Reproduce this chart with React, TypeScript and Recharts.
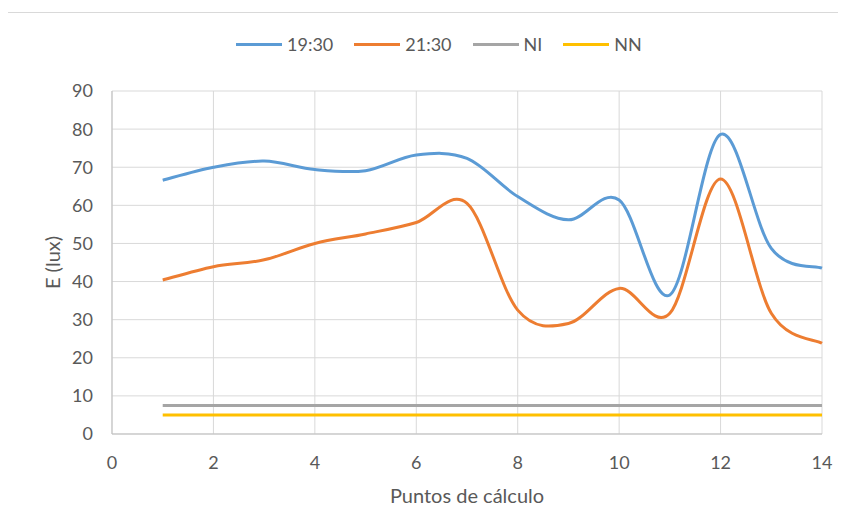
import { CartesianGrid, Line, LineChart, XAxis, YAxis, Label } from "recharts";

// Puntos de cálculo 1..14
const puntos = [1, 2, 3, 4, 5, 6, 7, 8, 9, 10, 11, 12, 13, 14];
const serie1930 = [66.6, 70, 71.6, 69.4, 69.1, 73.2, 72.3, 62.3, 56.2, 61.4, 36.5, 78.6, 48.7, 43.5];
const serie2130 = [40.4, 43.9, 45.7, 50, 52.5, 55.5, 60.5, 32.5, 29, 38.2, 31.7, 66.9, 31.7, 23.8];
const nivelNI = 7.5;
const nivelNN = 5;

const xTicks = [0, 2, 4, 6, 8, 10, 12, 14];
const yTicks = [0, 10, 20, 30, 40, 50, 60, 70, 80, 90];

const data = puntos.map((p, i) => ({
  p,
  s1930: serie1930[i],
  s2130: serie2130[i],
  ni: nivelNI,
  nn: nivelNN,
}));

const FONT = "Lato, 'Liberation Sans', sans-serif";
const TEXT = "#595959";

const legendItems = [
  { name: "19:30", color: "#5B9BD5" },
  { name: "21:30", color: "#ED7D31" },
  { name: "NI", color: "#A5A5A5" },
  { name: "NN", color: "#FFC000" },
];

// Suavizado tipo Excel (Catmull-Rom como curvas de Bézier)
function excelSmooth(context: any) {
  let pts: [number, number][] = [];
  return {
    areaStart() {},
    areaEnd() {},
    lineStart() {
      pts = [];
    },
    point(x: number, y: number) {
      pts.push([+x, +y]);
    },
    lineEnd() {
      const n = pts.length;
      if (!n) return;
      context.moveTo(pts[0][0], pts[0][1]);
      if (n === 2) context.lineTo(pts[1][0], pts[1][1]);
      for (let i = 0; n > 2 && i < n - 1; i++) {
        const p0 = pts[i - 1] || pts[i];
        const p1 = pts[i];
        const p2 = pts[i + 1];
        const p3 = pts[i + 2] || p2;
        context.bezierCurveTo(
          p1[0] + (p2[0] - p0[0]) / 6,
          p1[1] + (p2[1] - p0[1]) / 6,
          p2[0] - (p3[0] - p1[0]) / 6,
          p2[1] - (p3[1] - p1[1]) / 6,
          p2[0],
          p2[1]
        );
      }
    },
  };
}

export default function App() {
  return (
    <div style={{ position: "relative", width: 846, height: 529, margin: -8, background: "#fff", fontFamily: FONT, overflow: "hidden" }}>
      <div
        style={{
          position: "absolute",
          left: 7,
          top: 12,
          width: 860,
          height: 540,
          boxSizing: "border-box",
          borderLeft: "1px solid #d9d9d9",
          borderTop: "1px solid #d9d9d9",
        }}
      />
      <div
        style={{
          position: "absolute",
          top: 33,
          left: 236,
          display: "flex",
          alignItems: "center",
          fontSize: 18,
          color: TEXT,
          whiteSpace: "nowrap",
        }}
      >
        {legendItems.map((it) => (
          <div key={it.name} style={{ display: "flex", alignItems: "center", marginRight: 21 }}>
            <span style={{ display: "inline-block", width: 46, height: 3, background: it.color, marginRight: 5 }} />
            <span>{it.name}</span>
          </div>
        ))}
      </div>
      <LineChart
        width={846}
        height={529}
        data={data}
        margin={{ top: 91, right: 24, bottom: 65, left: 52 }}
        style={{ position: "absolute", left: 0, top: 0 }}
      >
        <CartesianGrid stroke="#d9d9d9" strokeWidth={1} />
        <XAxis
          dataKey="p"
          type="number"
          domain={[0, 14]}
          ticks={xTicks}
          height={30}
          axisLine={{ stroke: "#bfbfbf" }}
          tickLine={false}
          tickSize={0}
          tickMargin={22}
          tick={{ fill: TEXT, fontSize: 18, fontFamily: FONT }}
        >
          <Label value="Puntos de cálculo" position="insideBottom" offset={-39} fill={TEXT} fontSize={20} fontFamily={FONT} />
        </XAxis>
        <YAxis
          type="number"
          domain={[0, 90]}
          ticks={yTicks}
          width={60}
          axisLine={{ stroke: "#bfbfbf" }}
          tickLine={false}
          tickSize={0}
          tickMargin={19}
          tick={{ fill: TEXT, fontSize: 18, fontFamily: FONT }}
        >
          <Label value="E (lux)" angle={-90} position="center" dx={-29} fill={TEXT} fontSize={20} fontFamily={FONT} />
        </YAxis>
        <Line dataKey="s1930" name="19:30" type={excelSmooth as any} stroke="#5B9BD5" strokeWidth={3} dot={false} isAnimationActive={false} />
        <Line dataKey="s2130" name="21:30" type={excelSmooth as any} stroke="#ED7D31" strokeWidth={3} dot={false} isAnimationActive={false} />
        <Line dataKey="ni" name="NI" type="linear" stroke="#A5A5A5" strokeWidth={3} dot={false} isAnimationActive={false} />
        <Line dataKey="nn" name="NN" type="linear" stroke="#FFC000" strokeWidth={3} dot={false} isAnimationActive={false} />
      </LineChart>
    </div>
  );
}
